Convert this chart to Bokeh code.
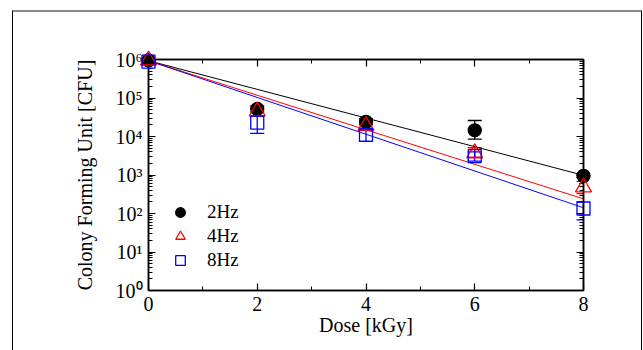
from bokeh.plotting import figure
from bokeh.models import (LinearAxis, LogAxis, FixedTicker, Whisker, ColumnDataSource,
                          Legend, LegendItem, TeeHead)
from bokeh.embed import file_html
from bokeh.resources import INLINE

# ---- data ----
dose = [0, 2, 4, 6, 8]

cfu_2hz = [9.5e5, 5.2e4, 2.4e4, 1.45e4, 950]
lo_2hz = [8.6e5, 4.3e4, 2.0e4, 8.5e3, 860]
hi_2hz = [1.05e6, 6.2e4, 2.9e4, 2.6e4, 1050]

cfu_4hz = [9.5e5, 4.5e4, 1.9e4, 3.7e3, 480]
lo_4hz = [8.6e5, 3.4e4, 1.5e4, 2.9e3, 330]
hi_4hz = [1.05e6, 5.8e4, 2.3e4, 5.1e3, 680]

cfu_8hz = [8.8e5, 2.3e4, 1.1e4, 3.1e3, 135]
lo_8hz = [8.0e5, 1.2e4, 7.5e3, 2.3e3, 68]
hi_8hz = [9.6e5, 3.4e4, 1.5e4, 4.0e3, 200]

fit_dose = [0, 8]
fit_2hz = [9.3e5, 980]
fit_4hz = [9.3e5, 240]
fit_8hz = [9.3e5, 141]

x_ticks = [0, 2, 4, 6, 8]
y_ticks = [1, 10, 100, 1000, 1e4, 1e5, 1e6]
y_tick_labels = ["10⁰", "10¹", "10²", "10³", "10⁴", "10⁵", "10⁶"]
series_labels = ["2Hz", "4Hz", "8Hz"]

FONT = "Liberation Serif"

p = figure(width=643, height=350, x_range=(0, 8), y_range=(1, 1e6), y_axis_type="log",
           output_backend="svg", toolbar_location=None,
           min_border_left=148, min_border_right=60, min_border_top=59, min_border_bottom=60)
p.grid.visible = False
p.outline_line_color = "black"
p.outline_line_width = 1.5
p.background_fill_color = "white"
p.border_fill_color = "white"

# outer page frame drawn with a pseudo element over the figure
p.stylesheets = [
    ":host { position: relative; }"
    ":host::after { content: ''; position: absolute; left: 12px; top: 10px; "
    "width: 628px; height: 338px; border-top: 2px solid #8a8a8a; "
    "border-left: 1px solid #000; border-right: 1px solid #000; "
    "pointer-events: none; z-index: 10; box-sizing: content-box; }"
]

minor_y = [d * m for d in y_ticks[:-1] for m in range(2, 10)]
yticker = FixedTicker(ticks=y_ticks, minor_ticks=minor_y)
xticker = FixedTicker(ticks=x_ticks, minor_ticks=[1, 3, 5, 7])


def style_axis(ax, show_labels):
    ax.axis_line_color = "black"
    ax.axis_line_width = 1.5
    ax.major_tick_in = 7
    ax.major_tick_out = 0
    ax.minor_tick_in = 4
    ax.minor_tick_out = 0
    ax.major_tick_line_color = "black"
    ax.minor_tick_line_color = "black"
    ax.major_tick_line_width = 1.2
    ax.minor_tick_line_width = 1
    if show_labels:
        ax.major_label_text_font = FONT
        ax.major_label_text_font_size = "20px"
        ax.major_label_text_color = "black"
        ax.axis_label_text_font = FONT
        ax.axis_label_text_font_size = "20px"
        ax.axis_label_text_font_style = "normal"
        ax.axis_label_text_color = "black"
    else:
        ax.major_label_text_font_size = "0px"
        ax.major_label_text_alpha = 0


xa = p.xaxis[0]
xa.ticker = xticker
xa.axis_label = "Dose [kGy]"
xa.major_label_standoff = 6
xa.axis_label_standoff = 0
style_axis(xa, True)

ya = p.yaxis[0]
ya.ticker = yticker
ya.axis_label = "Colony Forming Unit [CFU]"
ya.major_label_overrides = {t: lab for t, lab in zip(y_ticks, y_tick_labels)}
ya.major_label_standoff = 6
ya.axis_label_standoff = 17
style_axis(ya, True)

top = LinearAxis(ticker=xticker)
style_axis(top, False)
p.add_layout(top, "above")
right = LogAxis(ticker=yticker)
style_axis(right, False)
p.add_layout(right, "right")

# fit lines
p.line(fit_dose, fit_2hz, line_color="black", line_width=1)
p.line(fit_dose, fit_4hz, line_color="red", line_width=1)
p.line(fit_dose, fit_8hz, line_color="blue", line_width=1)

specs = [
    (cfu_2hz, lo_2hz, hi_2hz, "black", "circle", 13, "black"),
    (cfu_4hz, lo_4hz, hi_4hz, "red", "triangle", 16, None),
    (cfu_8hz, lo_8hz, hi_8hz, "blue", "square", 13, None),
]
renderers = []
for vals, lo, hi, col, mk, sz, fill in specs:
    src = ColumnDataSource(dict(x=dose, y=vals, lo=lo, hi=hi))
    w = Whisker(base="x", lower="lo", upper="hi", source=src, line_color=col, line_width=1.3,
                upper_head=TeeHead(size=14, line_color=col, line_width=1.3),
                lower_head=TeeHead(size=14, line_color=col, line_width=1.3))
    p.add_layout(w)
    r = p.scatter("x", "y", source=src, marker=mk, size=sz, line_color=col,
                  fill_color=fill, line_width=1.3, level="overlay")
    renderers.append(r)

legend = Legend(items=[LegendItem(label=l, renderers=[r]) for l, r in zip(series_labels, renderers)],
                location=(18, 18), padding=0, margin=0, spacing=0,
                glyph_width=28, glyph_height=24, label_standoff=13, label_height=24,
                label_text_font=FONT, label_text_font_size="19px", label_text_color="black",
                border_line_color=None, background_fill_alpha=0)
p.add_layout(legend)

open("out.html", "w").write(file_html(p, INLINE))
